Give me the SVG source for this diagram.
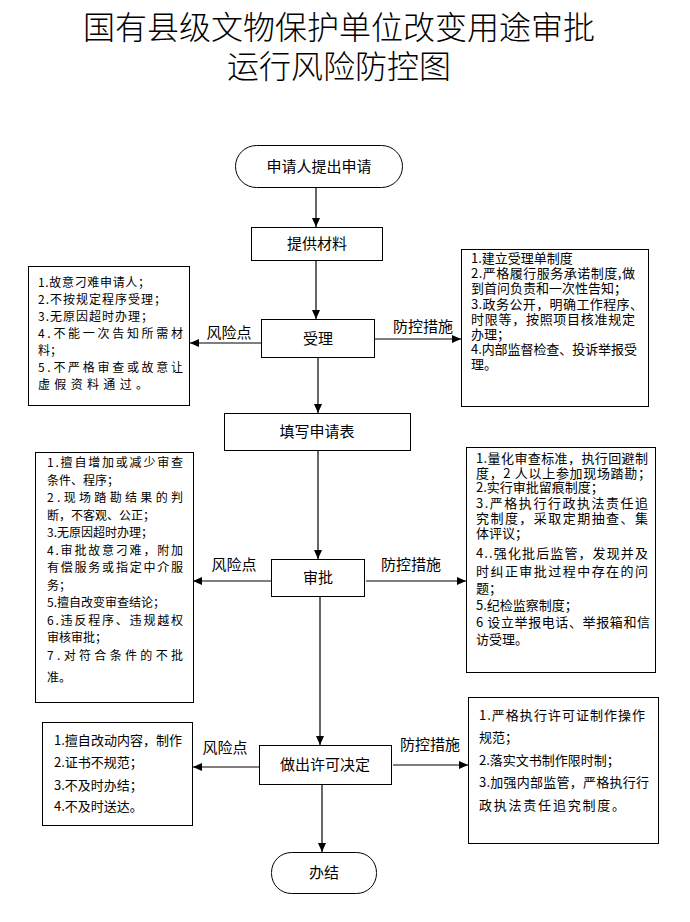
<svg xmlns="http://www.w3.org/2000/svg" width="690" height="922" viewBox="0 0 690 922">
<style>
text{font-family:"Noto Sans CJK SC","Noto Sans",sans-serif;fill:#000}
.title{font-size:32px;text-anchor:middle;font-weight:300}
.box{fill:#fff;stroke:#000;stroke-width:1}
.lbl{font-size:15px;text-anchor:middle}
.s12{font-size:12px}
.s13{font-size:13px}
.conn line{stroke:#000;stroke-width:1.2;marker-end:url(#ah)}
</style>
<defs>
<marker id="ah" markerUnits="userSpaceOnUse" markerWidth="9" markerHeight="8" refX="9" refY="4" orient="auto">
<path d="M0,0 L9,4 L0,8 z" fill="#000"/>
</marker>
</defs>
<rect width="690" height="922" fill="#fff"/>
<g id="title">
<text class="title" x="339" y="39">国有县级文物保护单位改变用途审批</text>
<text class="title" x="339" y="78">运行风险防控图</text>
</g>

<g class="conn">
<line x1="316" y1="187" x2="316" y2="227"/>
<line x1="316" y1="260" x2="316" y2="319"/>
<line x1="318" y1="357" x2="318" y2="413"/>
<line x1="318" y1="450" x2="318" y2="559"/>
<line x1="320" y1="596" x2="320" y2="745"/>
<line x1="322" y1="784" x2="322" y2="852"/>
<line x1="261" y1="343" x2="190" y2="343"/>
<line x1="374" y1="339" x2="461" y2="339"/>
<line x1="271" y1="581" x2="193" y2="581"/>
<line x1="366" y1="581" x2="466" y2="581"/>
<line x1="259" y1="767" x2="193" y2="767"/>
<line x1="393" y1="765" x2="468" y2="765"/>
</g>

<g id="edge-labels">
<text class="lbl" x="229" y="338">风险点</text>
<text class="lbl" x="423" y="332">防控措施</text>
<text class="lbl" x="234" y="570">风险点</text>
<text class="lbl" x="411" y="570">防控措施</text>
<text class="lbl" x="225" y="753">风险点</text>
<text class="lbl" x="430" y="750">防控措施</text>
</g>

<g id="start">
<rect class="box" x="235.5" y="145.5" width="167" height="42" rx="21"/>
<text class="lbl" x="319" y="172">申请人提出申请</text>
</g>
<g id="materials">
<rect class="box" x="251.5" y="227.5" width="131" height="33"/>
<text class="lbl" x="317" y="249">提供材料</text>
</g>
<g id="accept">
<rect class="box" x="261.5" y="319.5" width="113" height="38"/>
<text class="lbl" x="318" y="344">受理</text>
</g>
<g id="fill-form">
<rect class="box" x="224.5" y="413.5" width="186" height="37"/>
<text class="lbl" x="317" y="437">填写申请表</text>
</g>
<g id="approve">
<rect class="box" x="271.5" y="559.5" width="93" height="37"/>
<text class="lbl" x="318" y="583">审批</text>
</g>
<g id="decide">
<rect class="box" x="259.5" y="745.5" width="132" height="39"/>
<text class="lbl" x="325" y="770">做出许可决定</text>
</g>
<g id="finish">
<rect class="box" x="271.5" y="852.5" width="105" height="41" rx="20"/>
<text class="lbl" x="324" y="878">办结</text>
</g>

<g id="risk-accept">
<rect class="box" x="28.5" y="266.5" width="161" height="139"/>
<g class="s12">
<text x="38" y="287" textLength="112" lengthAdjust="spacing">1.故意刁难申请人；</text>
<text x="38" y="304" textLength="128" lengthAdjust="spacing">2.不按规定程序受理；</text>
<text x="38" y="321" textLength="115" lengthAdjust="spacing">3.无原因超时办理；</text>
<text x="38" y="338" textLength="145" lengthAdjust="spacing">4.不能一次告知所需材</text>
<text x="38" y="355">料；</text>
<text x="38" y="372" textLength="145" lengthAdjust="spacing">5.不严格审查或故意让</text>
<text x="38" y="389" textLength="110" lengthAdjust="spacing">虚假资料通过。</text>
</g>
</g>

<g id="control-accept">
<rect class="box" x="461.5" y="249.5" width="187" height="157"/>
<g class="s13">
<text x="471" y="263">1.建立受理单制度</text>
<text x="471" y="278" textLength="164" lengthAdjust="spacing">2.严格履行服务承诺制度,做</text>
<text x="471" y="293" textLength="156" lengthAdjust="spacing">到首问负责和一次性告知；</text>
<text x="471" y="309" textLength="172" lengthAdjust="spacing">3.政务公开，明确工作程序、</text>
<text x="471" y="324" textLength="164" lengthAdjust="spacing">时限等，按照项目核准规定</text>
<text x="471" y="339">办理；</text>
<text x="471" y="354" textLength="166" lengthAdjust="spacing">4.内部监督检查、投诉举报受</text>
<text x="471" y="369">理。</text>
</g>
</g>

<g id="risk-approve">
<rect class="box" x="35.5" y="452.5" width="158" height="250"/>
<g class="s12">
<text x="47" y="467" textLength="136" lengthAdjust="spacing">1.擅自增加或减少审查</text>
<text x="47" y="484.5">条件、程序；</text>
<text x="47" y="502" textLength="136" lengthAdjust="spacing">2.现场踏勘结果的判</text>
<text x="47" y="519.5">断，不客观、公正；</text>
<text x="47" y="537">3.无原因超时办理；</text>
<text x="47" y="554.5" textLength="136" lengthAdjust="spacing">4.审批故意刁难，附加</text>
<text x="47" y="572" textLength="136" lengthAdjust="spacing">有偿服务或指定中介服</text>
<text x="47" y="589.5">务；</text>
<text x="47" y="607">5.擅自改变审查结论；</text>
<text x="47" y="624.5" textLength="136" lengthAdjust="spacing">6.违反程序、违规越权</text>
<text x="47" y="642">审核审批；</text>
<text x="47" y="659.5" textLength="136" lengthAdjust="spacing">7.对符合条件的不批</text>
<text x="47" y="682">准。</text>
</g>
</g>

<g id="control-approve">
<rect class="box" x="466.5" y="447.5" width="189" height="225"/>
<g class="s13">
<text x="476" y="463" textLength="172" lengthAdjust="spacing">1.量化审查标准，执行回避制</text>
<text x="476" y="478" textLength="175" lengthAdjust="spacing">度，2 人以上参加现场踏勘；</text>
<text x="476" y="492">2.实行审批留痕制度；</text>
<text x="476" y="508" textLength="172" lengthAdjust="spacing">3.严格执行行政执法责任追</text>
<text x="476" y="523" textLength="172" lengthAdjust="spacing">究制度，采取定期抽查、集</text>
<text x="476" y="538">体评议；</text>
<text x="476" y="558" textLength="172" lengthAdjust="spacing">4..强化批后监管，发现并及</text>
<text x="476" y="576" textLength="172" lengthAdjust="spacing">时纠正审批过程中存在的问</text>
<text x="476" y="593">题；</text>
<text x="476" y="610">5.纪检监察制度；</text>
<text x="476" y="627" textLength="174" lengthAdjust="spacing">6 设立举报电话、举报箱和信</text>
<text x="476" y="644">访受理。</text>
</g>
</g>

<g id="risk-decide">
<rect class="box" x="42.5" y="722.5" width="150" height="103"/>
<g class="s13">
<text x="54" y="745" textLength="128" lengthAdjust="spacing">1.擅自改动内容，制作</text>
<text x="54" y="767">2.证书不规范；</text>
<text x="54" y="790">3.不及时办结；</text>
<text x="54" y="811">4.不及时送达。</text>
</g>
</g>

<g id="control-decide">
<rect class="box" x="468.5" y="697.5" width="190" height="146"/>
<g class="s13">
<text x="479" y="720" textLength="166" lengthAdjust="spacing">1.严格执行许可证制作操作</text>
<text x="479" y="742">规范；</text>
<text x="479" y="765">2.落实文书制作限时制；</text>
<text x="479" y="787" textLength="170" lengthAdjust="spacing">3.加强内部监管，严格执行行</text>
<text x="479" y="810" textLength="146" lengthAdjust="spacing">政执法责任追究制度。</text>
</g>
</g>
</svg>
